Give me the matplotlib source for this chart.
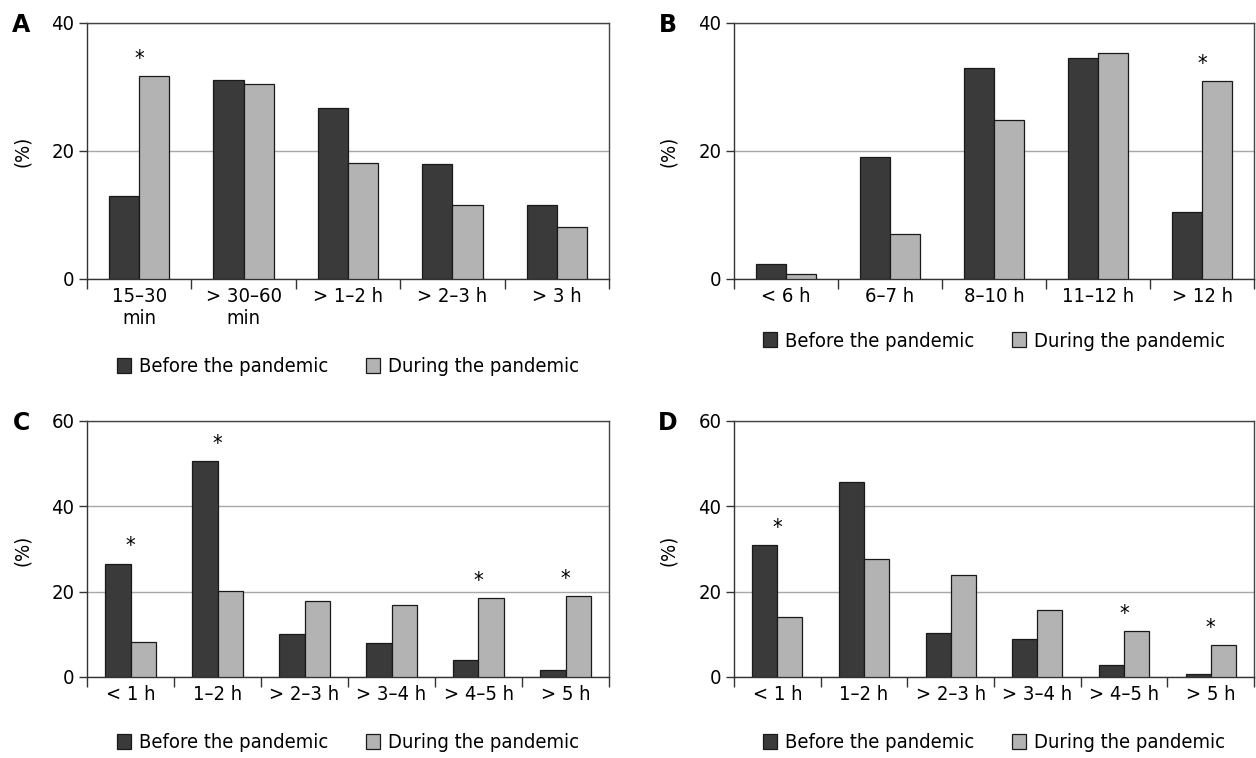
import matplotlib
matplotlib.use("Agg")
import matplotlib.pyplot as plt
from matplotlib import font_manager
import numpy as np

# ---------------- data ----------------
cats_a = ["15–30\nmin", "> 30–60\nmin", "> 1–2 h", "> 2–3 h", "> 3 h"]
before_a = [13.0, 31.1, 26.7, 17.9, 11.5]
during_a = [31.7, 30.5, 18.2, 11.5, 8.2]
sig_a = [0]

cats_b = ["< 6 h", "6–7 h", "8–10 h", "11–12 h", "> 12 h"]
before_b = [2.3, 19.0, 32.9, 34.6, 10.4]
during_b = [0.8, 7.0, 24.9, 35.3, 30.9]
sig_b = [4]

cats_c = ["< 1 h", "1–2 h", "> 2–3 h", "> 3–4 h", "> 4–5 h", "> 5 h"]
before_c = [26.6, 50.7, 10.1, 7.9, 4.1, 1.6]
during_c = [8.1, 20.2, 17.7, 16.8, 18.6, 18.9]
sig_c = [0, 1, 4, 5]

cats_d = ["< 1 h", "1–2 h", "> 2–3 h", "> 3–4 h", "> 4–5 h", "> 5 h"]
before_d = [30.9, 45.6, 10.4, 9.0, 2.8, 0.8]
during_d = [14.1, 27.7, 23.9, 15.7, 10.8, 7.4]
sig_d = [0, 4, 5]

series_names = ["Before the pandemic", "During the pandemic"]
panel_letters = ["A", "B", "C", "D"]

# ---------------- fonts ----------------
tl = font_manager.fontManager.ttflist
names = {f.name for f in tl}
has_dv_cond = any(f.name == "DejaVu Sans" and str(f.stretch) in ("condensed", "semi-condensed")
                  for f in tl)
FS = 14.5
if "Liberation Sans Narrow" in names:
    plt.rcParams["font.family"] = ["Liberation Sans Narrow", "DejaVu Sans"]
    FS = 15.5
elif has_dv_cond:
    plt.rcParams["font.family"] = ["DejaVu Sans"]
    plt.rcParams["font.stretch"] = "condensed"
    FS = 14.5
elif "Liberation Sans" in names:
    plt.rcParams["font.family"] = ["Liberation Sans", "DejaVu Sans"]
    FS = 14.5
plt.rcParams["font.size"] = FS

W, H = 1256, 758
fig = plt.figure(figsize=(W / 100, H / 100), dpi=100)

DARK = "#3a3a3a"
LIGHT = "#b3b3b3"
EDGE = "#1a1a1a"


def px_rect(x0, y0, x1, y1):
    return [x0 / W, 1 - y1 / H, (x1 - x0) / W, (y1 - y0) / H]


panels = [
    (px_rect(87, 23, 609, 279), cats_a, before_a, during_a, sig_a, 40, 367, (21, 25), (22, 151)),
    (px_rect(734, 23, 1254, 279), cats_b, before_b, during_b, sig_b, 40, 341, (668, 25), (668, 151)),
    (px_rect(87, 421, 609, 677), cats_c, before_c, during_c, sig_c, 60, 743, (21, 423), (22, 550)),
    (px_rect(734, 421, 1254, 677), cats_d, before_d, during_d, sig_d, 60, 743, (668, 423), (668, 550)),
]

bw = 0.29
for k, (rect, cats, bef, dur, sig, ymax, leg_y, lab_xy, yl_xy) in enumerate(panels):
    ax = fig.add_axes(rect)
    n = len(cats)
    x = np.arange(n)
    ax.bar(x - bw / 2, bef, bw, color=DARK, edgecolor=EDGE, linewidth=0.9,
           label=series_names[0], zorder=3)
    ax.bar(x + bw / 2, dur, bw, color=LIGHT, edgecolor=EDGE, linewidth=0.9,
           label=series_names[1], zorder=3)
    for i in sig:
        top = max(bef[i], dur[i])
        ax.annotate("*", xy=(x[i], top), xytext=(0, 8), textcoords="offset points",
                    ha="center", va="baseline", fontsize=FS + 1, zorder=4)
    ax.set_xlim(-0.5, n - 0.5)
    ax.set_ylim(0, ymax)
    ax.set_yticks(np.arange(0, ymax + 1, 20))
    ax.yaxis.grid(True, color="#a8a8a8", linewidth=1.0, zorder=0)
    ax.set_axisbelow(True)
    # major ticks at group boundaries, labels on minor ticks at centers
    ax.set_xticks(np.arange(-0.5, n, 1.0))
    ax.set_xticklabels([])
    ax.set_xticks(x, minor=True)
    ax.set_xticklabels(cats, minor=True)
    ax.tick_params(axis="x", which="major", length=7, width=1, color="#333333", direction="out")
    ax.tick_params(axis="x", which="minor", length=0, pad=6, labelsize=FS)
    ax.tick_params(axis="y", length=6, width=1, color="#333333", pad=3, labelsize=FS)
    for s in ["left", "bottom"]:
        ax.spines[s].set_color("#333333")
        ax.spines[s].set_linewidth(1.0)
    for s in ["top", "right"]:
        ax.spines[s].set_color("#444444")
        ax.spines[s].set_linewidth(1.0)
    # legend
    cx = (rect[0] + rect[2] / 2)
    ax.legend(loc="center", bbox_to_anchor=(cx, 1 - leg_y / H), bbox_transform=fig.transFigure,
              ncol=2, frameon=False, handlelength=0.7, handleheight=0.7, handletextpad=0.4,
              columnspacing=1.9, fontsize=FS, borderpad=0)
    fig.text(lab_xy[0] / W, 1 - lab_xy[1] / H, panel_letters[k], fontsize=FS + 2.5, fontweight="bold",
             ha="center", va="center", fontstretch="normal")
    fig.text(yl_xy[0] / W, 1 - yl_xy[1] / H, "(%)", rotation=90, ha="center", va="center", fontsize=FS)

fig.savefig("out.png", dpi=100)
